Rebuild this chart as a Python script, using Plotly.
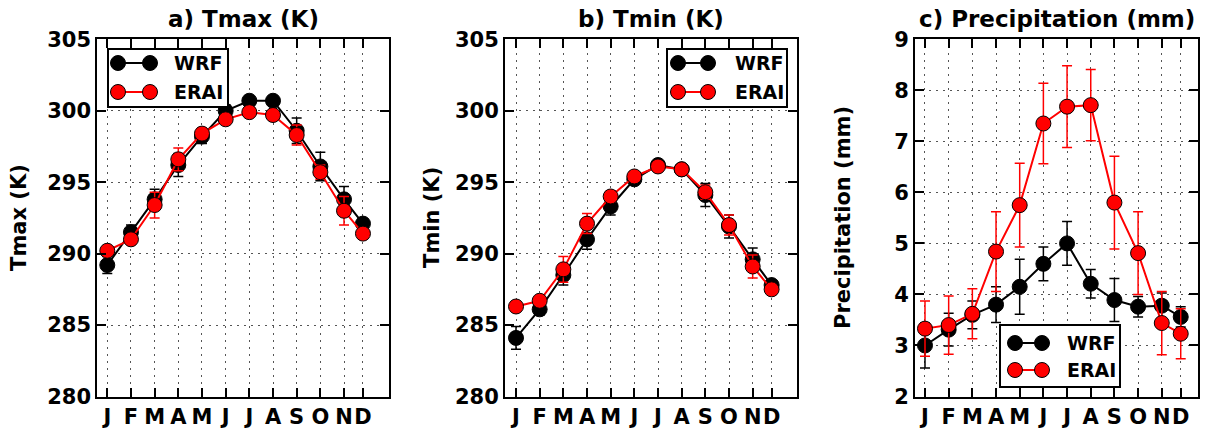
import plotly.graph_objects as go

W, H = 1209, 434

# Monthly climatologies
months = ["J", "F", "M", "A", "M", "J", "J", "A", "S", "O", "N", "D"]
month_pos = [1, 2, 3, 4, 5, 6, 7, 8, 9, 10, 11, 11.8]

tmax_wrf = [289.2, 291.5, 293.8, 296.2, 298.2, 300.0, 300.7, 300.7, 298.6, 296.1, 293.8, 292.1]
tmax_wrf_err = [0.6, 0.5, 0.7, 0.8, 0.5, 0.4, 0.3, 0.3, 0.9, 1.0, 0.9, 0.3]
tmax_erai = [290.2, 291.0, 293.4, 296.6, 298.4, 299.4, 299.9, 299.7, 298.3, 295.7, 293.0, 291.4]
tmax_erai_err = [0.3, 0.3, 0.9, 0.8, 0.4, 0.3, 0.3, 0.3, 0.7, 0.5, 1.0, 0.3]

tmin_wrf = [284.1, 286.1, 288.5, 291.0, 293.3, 295.2, 296.2, 295.9, 294.1, 291.9, 289.6, 287.8]
tmin_wrf_err = [0.8, 0.4, 0.7, 0.7, 0.6, 0.3, 0.3, 0.3, 0.8, 0.8, 0.8, 0.3]
tmin_erai = [286.3, 286.7, 288.9, 292.1, 294.0, 295.4, 296.1, 295.9, 294.3, 292.0, 289.1, 287.5]
tmin_erai_err = [0.3, 0.3, 0.9, 0.7, 0.4, 0.3, 0.3, 0.3, 0.5, 0.7, 0.8, 0.3]

prec_wrf = [3.00, 3.31, 3.60, 3.80, 4.15, 4.60, 5.00, 4.21, 3.89, 3.76, 3.78, 3.56]
prec_wrf_err = [0.44, 0.32, 0.27, 0.35, 0.54, 0.33, 0.43, 0.28, 0.42, 0.20, 0.25, 0.20]
prec_erai = [3.33, 3.40, 3.62, 4.84, 5.75, 7.35, 7.68, 7.71, 5.80, 4.81, 3.44, 3.23]
prec_erai_err = [0.54, 0.57, 0.49, 0.78, 0.82, 0.79, 0.80, 0.70, 0.91, 0.81, 0.62, 0.49]

series_names = ["WRF", "ERAI"]
series_colors = ["black", "red"]

panels = [
    dict(title="a) Tmax (K)", ylabel="Tmax (K)", yrange=[280, 305], dtick=5,
         data=[(tmax_wrf, tmax_wrf_err), (tmax_erai, tmax_erai_err)],
         xpx=(97.3, 389.0), xrange=[0.578, 12.90], label_x=19),
    dict(title="b) Tmin (K)", ylabel="Tmin (K)", yrange=[280, 305], dtick=5,
         data=[(tmin_wrf, tmin_wrf_err), (tmin_erai, tmin_erai_err)],
         xpx=(505.0, 796.7), xrange=[0.535, 12.86], label_x=432),
    dict(title="c) Precipitation (mm)", ylabel="Precipitation (mm)", yrange=[2, 9], dtick=1,
         data=[(prec_wrf, prec_wrf_err), (prec_erai, prec_erai_err)],
         xpx=(915.0, 1198.0), xrange=[0.578, 12.53], label_x=843),
]

TOP, BOTTOM = 39.3, 396.5
FONT = "DejaVu Sans"


def fx(p):
    return p / W


def fy(p):
    return 1 - p / H


fig = go.Figure()
annotations = []
shapes = []

for i, pn in enumerate(panels, start=1):
    xa = "x" if i == 1 else f"x{i}"
    ya = "y" if i == 1 else f"y{i}"
    for (vals, errs), name, col in zip(pn["data"], series_names, series_colors):
        fig.add_trace(go.Scatter(
            x=month_pos, y=vals, name=name, mode="lines+markers",
            xaxis=xa, yaxis=ya, showlegend=False,
            line=dict(color=col, width=2),
            marker=dict(color=col, size=15, line=dict(color="black", width=1)),
            error_y=dict(type="data", array=errs, color=col, thickness=1.5, width=5),
        ))
    axis_common = dict(
        showline=True, linecolor="black", linewidth=2, mirror="ticks",
        ticks="inside", ticklen=9, tickwidth=1.5, tickcolor="black",
        showgrid=True, gridcolor="#555555", gridwidth=1, griddash="2px,5px",
        zeroline=False, automargin=False,
        tickfont=dict(family=FONT, size=21, color="black", weight="bold"),
    )
    x0, x1 = pn["xpx"]
    fig.layout[f"xaxis{'' if i == 1 else i}"] = dict(
        axis_common, domain=[fx(x0), fx(x1)], range=pn["xrange"], anchor=ya,
        tickmode="array", tickvals=month_pos, ticktext=months, tickangle=0,
    )
    fig.layout[f"yaxis{'' if i == 1 else i}"] = dict(
        axis_common, domain=[fy(BOTTOM), fy(TOP)], range=pn["yrange"], anchor=xa,
        dtick=pn["dtick"], tick0=pn["yrange"][0],
    )
    annotations.append(dict(
        text=pn["title"], xref="paper", yref="paper",
        x=fx((x0 + x1) / 2), y=fy(19), xanchor="center", yanchor="middle",
        showarrow=False, font=dict(family=FONT, size=23, color="black", weight="bold"),
    ))
    annotations.append(dict(
        text=pn["ylabel"], xref="paper", yref="paper", textangle=-90,
        x=fx(pn["label_x"]), y=fy((TOP + BOTTOM) / 2), xanchor="center", yanchor="middle",
        showarrow=False, font=dict(family=FONT, size=21, color="black", weight="bold"),
    ))

# Legend boxes: (box left, top, right, bottom, first marker x, second marker x, text x, row ys)
legend_boxes = [
    (108, 49, 228, 107, 118, 150, 172, (63, 92)),
    (667, 49, 787, 107, 678, 708, 733, (63, 92)),
    (1000, 325, 1120, 387, 1015, 1042, 1065, (343, 370)),
]
R = 7.5
for bx0, by0, bx1, by1, m0, m1, tx, rows in legend_boxes:
    shapes.append(dict(type="rect", xref="paper", yref="paper",
                       x0=fx(bx0), x1=fx(bx1), y0=fy(by1), y1=fy(by0),
                       line=dict(color="black", width=2), fillcolor="white", layer="above"))
    for name, col, ry in zip(series_names, series_colors, rows):
        shapes.append(dict(type="line", xref="paper", yref="paper",
                           x0=fx(m0), x1=fx(m1), y0=fy(ry), y1=fy(ry),
                           line=dict(color=col, width=2), layer="above"))
        for mx in (m0, m1):
            shapes.append(dict(type="circle", xref="paper", yref="paper",
                               x0=fx(mx - R), x1=fx(mx + R), y0=fy(ry + R), y1=fy(ry - R),
                               line=dict(color="black", width=1), fillcolor=col, layer="above"))
        annotations.append(dict(
            text=name, xref="paper", yref="paper", x=fx(tx), y=fy(ry),
            xanchor="left", yanchor="middle", showarrow=False,
            font=dict(family=FONT, size=19, color="black", weight="bold"),
        ))

fig.update_layout(
    width=W, height=H, margin=dict(l=0, r=0, t=0, b=0),
    paper_bgcolor="white", plot_bgcolor="white",
    annotations=annotations, shapes=shapes, showlegend=False,
)

fig.write_html("out.html")
